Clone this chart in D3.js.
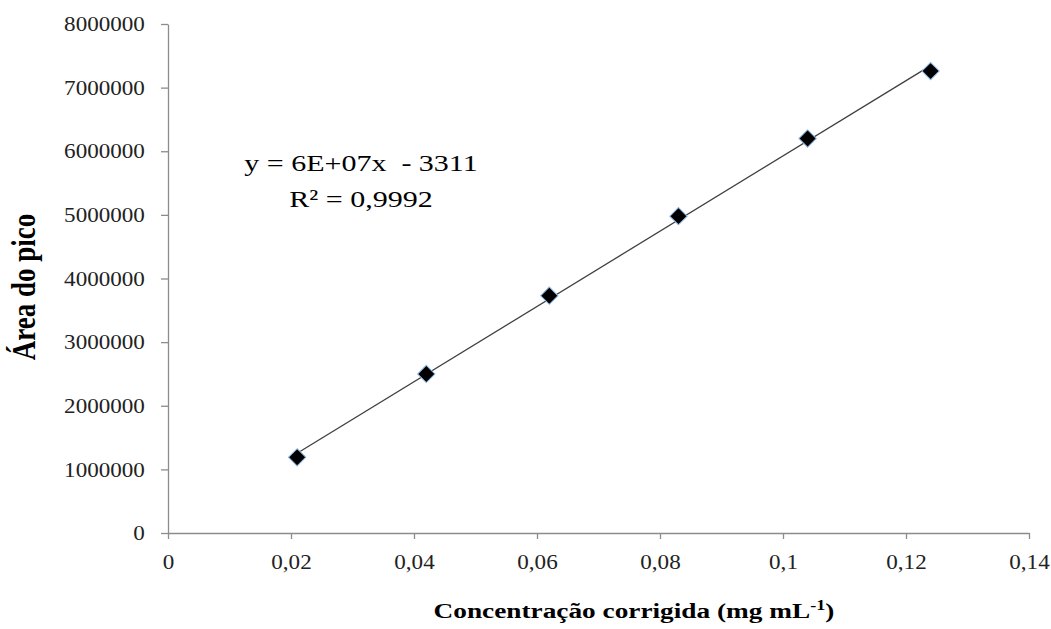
<!DOCTYPE html>
<html>
<head>
<meta charset="utf-8">
<script src="https://cdn.jsdelivr.net/npm/d3@7"></script>
<style>
  body { margin: 0; background: #fff; }
  svg { display: block; }
  text { font-family: "Liberation Serif", "Times New Roman", serif; }
</style>
</head>
<body>
<div id="chart-area"></div>
<script>
// data
var concentracao = [0.021, 0.042, 0.062, 0.083, 0.104, 0.124];
var area = [1190000, 2500000, 3730000, 4980000, 6200000, 7260000];
var xTicks = [0, 0.02, 0.04, 0.06, 0.08, 0.1, 0.12, 0.14];
var yTicks = [0, 1000000, 2000000, 3000000, 4000000, 5000000, 6000000, 7000000, 8000000];
var equationText = "y = 6E+07x  - 3311";
var r2Text = "R\u00b2 = 0,9992";

var margin = { left: 168, right: 22, top: 24, bottom: 96 };
var width = 1051 - margin.left - margin.right,
    height = 629 - margin.top - margin.bottom;

var svg = d3.select("#chart-area")
    .append("svg")
    .attr("width", 1051)
    .attr("height", 629);

var g = svg.append("g")
    .attr("transform", "translate(" + margin.left + "," + margin.top + ")");

// Scales
var x = d3.scaleLinear()
    .domain([0, 0.14])
    .range([0, width]);
var y = d3.scaleLinear()
    .domain([0, 8000000])
    .range([height, 0]);

var axisColor = "#8c8c8c";

// X Axis
var xAxisCall = d3.axisBottom(x)
    .tickValues(xTicks)
    .tickSize(6)
    .tickSizeOuter(0)
    .tickPadding(15)
    .tickFormat(function(d){ return String(d).replace(".", ","); });
var xAxis = g.append("g")
    .attr("class", "x axis")
    .attr("transform", "translate(0," + height + ")")
    .call(xAxisCall);

// Y Axis
var yAxisCall = d3.axisLeft(y)
    .tickValues(yTicks)
    .tickSize(7)
    .tickSizeOuter(0)
    .tickPadding(14)
    .tickFormat(function(d){ return String(d); });
var yAxis = g.append("g")
    .attr("class", "y axis")
    .call(yAxisCall);

[xAxis, yAxis].forEach(function(ax){
    ax.select(".domain").attr("stroke", axisColor).attr("stroke-width", 1.3);
    ax.selectAll(".tick line").attr("stroke", axisColor).attr("stroke-width", 1.3);
    ax.selectAll(".tick text")
        .attr("fill", "#222")
        .attr("font-size", "21px")
        .attr("font-family", "'Liberation Serif', 'Times New Roman', serif")
        // text in the picture is a bit wider than the font
        .attr("transform", "scale(1.1,1)");
});

// Linear trend (least squares) over the points
var n = concentracao.length;
var mx = d3.mean(concentracao), my = d3.mean(area);
var sxy = 0, sxx = 0;
for (var i = 0; i < n; i++) {
    sxy += (concentracao[i] - mx) * (area[i] - my);
    sxx += (concentracao[i] - mx) * (concentracao[i] - mx);
}
var slope = sxy / sxx, intercept = my - slope * mx;
var xMin = d3.min(concentracao), xMax = d3.max(concentracao);

g.append("line")
    .attr("x1", x(xMin))
    .attr("y1", y(slope * xMin + intercept))
    .attr("x2", x(xMax))
    .attr("y2", y(slope * xMax + intercept))
    .attr("stroke", "#404040")
    .attr("stroke-width", 1.3);

// Markers (diamonds)
var points = concentracao.map(function(c, i){ return { x: c, y: area[i] }; });
g.selectAll(".marker")
    .data(points)
    .enter()
    .append("path")
    .attr("class", "marker")
    .attr("d", d3.symbol().type(d3.symbolSquare).size(150))
    .attr("transform", function(d){
        return "translate(" + x(d.x) + "," + y(d.y) + ") rotate(45)";
    })
    .attr("fill", "#000")
    .attr("stroke", "#8fb8e6")
    .attr("stroke-width", 1);

// Equation label
svg.append("text")
    .attr("transform", "translate(361,171) scale(1.25,1)")
    .attr("text-anchor", "middle")
    .attr("font-size", "24px")
    .attr("fill", "#000")
    .attr("xml:space", "preserve")
    .style("white-space", "pre")
    .text(equationText);
svg.append("text")
    .attr("transform", "translate(361,207) scale(1.25,1)")
    .attr("text-anchor", "middle")
    .attr("font-size", "24px")
    .attr("fill", "#000")
    .text(r2Text);

// Axis titles
var xTitle = svg.append("text")
    .attr("transform", "translate(634,618) scale(1.3,1)")
    .attr("text-anchor", "middle")
    .attr("font-size", "21px")
    .attr("font-weight", "bold")
    .attr("fill", "#000");
xTitle.append("tspan").text("Concentração corrigida (mg mL");
xTitle.append("tspan").attr("font-size", "14px").attr("dy", "-8").text("-1");
xTitle.append("tspan").attr("dy", "8").text(")");

svg.append("text")
    .attr("transform", "translate(35,287) scale(1.25,1) rotate(-90)")
    .attr("text-anchor", "middle")
    .attr("font-size", "27px")
    .attr("font-weight", "bold")
    .attr("fill", "#000")
    .text("Área do pico");
</script>
</body>
</html>
